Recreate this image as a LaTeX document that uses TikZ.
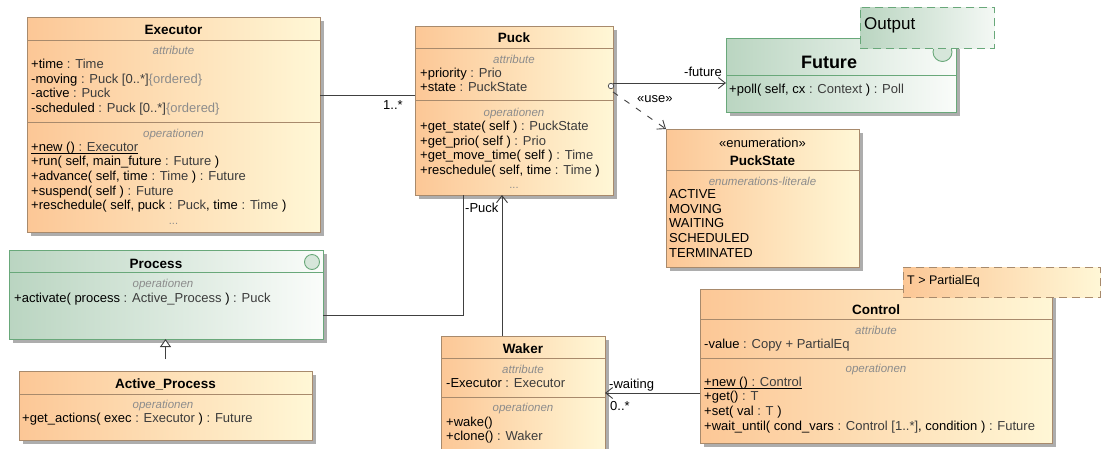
\documentclass[tikz,border=0pt]{standalone}
\usepackage{fontspec}
\setmainfont{Liberation Sans}
\usetikzlibrary{arrows.meta,shadows}
\definecolor{orL}{RGB}{252,199,150}
\definecolor{orR}{RGB}{255,247,214}
\definecolor{orB}{RGB}{168,138,108}
\definecolor{grL}{RGB}{186,213,193}
\definecolor{grR}{RGB}{250,252,250}
\definecolor{grB}{RGB}{105,168,122}
\definecolor{tyC}{RGB}{60,60,60}
\definecolor{cmpC}{RGB}{140,140,140}
\definecolor{lnC}{RGB}{64,64,64}
\definecolor{icC}{RGB}{214,230,218}
\newcommand\ty[1]{\textcolor{tyC}{#1}}
\newcommand\og[1]{\textcolor{cmpC}{#1}}
\tikzset{
  cls/.style={draw=orB, line width=0.9pt, left color=orL, right color=orR,
    drop shadow={shadow xshift=4pt, shadow yshift=-4pt, fill=black!32, opacity=1},
    anchor=north west, inner sep=0pt, outer sep=0pt},
  gcls/.style={cls, draw=grB, left color=grL, right color=grR},
  sep/.style={draw=orB, line width=0.9pt},
  gsep/.style={draw=grB, line width=0.9pt},
  ln/.style={anchor=base west, inner sep=0pt, font=\fontsize{13}{15}\selectfont},
  ttl/.style={anchor=base, inner sep=0pt, font=\fontsize{13.5}{15}\selectfont\bfseries},
  cmp/.style={anchor=base, inner sep=0pt, font=\fontsize{11.5}{13}\selectfont\itshape, text=cmpC},
  dots/.style={anchor=base, inner sep=0pt, font=\fontsize{11}{13}\selectfont, text=cmpC},
  lbl/.style={anchor=base west, inner sep=0pt, font=\fontsize{13}{15}\selectfont},
  conn/.style={draw=lnC, line width=0.9pt},
  uln/.style={draw=black, line width=0.7pt},
  barb/.style={-{Straight Barb[length=7pt,width=11pt]}},
  gen/.style={-{Triangle[length=8pt,width=11pt,fill=white]}},
  icon/.style={circle, draw=grB, fill=icC, line width=0.9pt, inner sep=0pt},
}
\begin{document}
\begin{tikzpicture}[x=1pt,y=-1pt]
\useasboundingbox (0,0) rectangle (1101,448);
\clip (0,0) rectangle (1101,448);

% ---------- Executor ----------
\node[cls, minimum width=293pt, minimum height=215pt] (executor) at (27,17) {};
\draw[sep] (27,40) -- (320,40);
\draw[sep] (27,122) -- (320,122);
\node[ttl] (ex-t) at (173.5,34) {Executor};
\node[cmp] (ex-c1) at (173.5,54) {attribute};
\foreach \lin [count=\i from 0] in {{+time \ty{: Time}},{-moving \ty{: Puck [0..*]}\og{\{ordered\}}},{-active \ty{: Puck}},{-scheduled \ty{: Puck [0..*]}\og{\{ordered\}}}}
  \node[ln] (ex-a\i) at (31,68.5+14.7*\i) {\lin};
\node[cmp] (ex-c2) at (173.5,137) {operationen};
\foreach \lin [count=\i from 0] in {{+new () \ty{: Executor}},{+run( self, main\_future \ty{: Future} )},{+advance( self, time \ty{: Time} ) \ty{: Future}},{+suspend( self ) \ty{: Future}},{+reschedule( self, puck \ty{: Puck}, time \ty{: Time} )}}
  \node[ln] (ex-o\i) at (31,151+14.7*\i) {\lin};
\draw[uln] ([yshift=-2.2pt]ex-o0.base west) -- ([yshift=-2.2pt]ex-o0.base east);
\node[dots] (ex-d) at (173.5,224.5) {...};

% ---------- Puck ----------
\node[cls, minimum width=198pt, minimum height=169pt] (puck) at (415,26) {};
\draw[sep] (415,48) -- (613,48);
\draw[sep] (415,100) -- (613,100);
\node[ttl] (pk-t) at (514,42) {Puck};
\node[cmp] (pk-c1) at (514,63) {attribute};
\foreach \lin [count=\i from 0] in {{+priority \ty{: Prio}},{+state \ty{: PuckState}}}
  \node[ln] (pk-a\i) at (420,77+14.7*\i) {\lin};
\node[cmp] (pk-c2) at (514,116) {operationen};
\foreach \lin [count=\i from 0] in {{+get\_state( self ) \ty{: PuckState}},{+get\_prio( self ) \ty{: Prio}},{+get\_move\_time( self ) \ty{: Time}},{+reschedule( self, time \ty{: Time} )}}
  \node[ln] (pk-o\i) at (420,130.5+14.7*\i) {\lin};
\node[dots] (pk-d) at (514,188.5) {...};

% ---------- Future ----------
\node[gcls, minimum width=230pt, minimum height=74pt] (future) at (726,38) {};
\draw[gsep] (726,75) -- (956,75);
\node[anchor=base, inner sep=0pt, font=\fontsize{18}{20}\selectfont\bfseries] (fu-t) at (829,68.8) {Future};
\node[ln] (fu-o0) at (729,93) {+poll( self, cx \ty{: Context} ) \ty{: Poll}};
\node[icon, minimum size=19pt] (fu-ic) at (942.5,52) {};
\node[draw=grB, line width=0.9pt, dash pattern=on 8pt off 5pt, left color=grL, right color=grR!90!grL,
  minimum width=134pt, minimum height=41pt, anchor=north west, inner sep=0pt] (outbox) at (860,7) {};
\node[anchor=base west, inner sep=0pt, font=\fontsize{17}{19}\selectfont] (out-t) at (864,29) {Output};

% ---------- PuckState ----------
\node[cls, minimum width=193pt, minimum height=138pt] (puckstate) at (666,129) {};
\draw[sep] (666,170) -- (859,170);
\node[anchor=base, inner sep=0pt, font=\fontsize{13}{15}\selectfont] (ps-s) at (762.5,147.5) {«enumeration»};
\node[ttl] (ps-t) at (762.5,165) {PuckState};
\node[cmp] (ps-c1) at (762.5,185) {enumerations-literale};
\foreach \lin [count=\i from 0] in {ACTIVE,MOVING,WAITING,SCHEDULED,TERMINATED}
  \node[ln] (ps-l\i) at (669,198.5+14.7*\i) {\lin};

% ---------- Process ----------
\node[gcls, minimum width=314pt, minimum height=89pt] (process) at (9,250) {};
\draw[gsep] (9,272) -- (323,272);
\node[ttl] (pr-t) at (156,268) {Process};
\node[icon, minimum size=15pt] (pr-ic) at (312,262) {};
\node[cmp] (pr-c1) at (163,287) {operationen};
\node[ln] (pr-o0) at (14,302) {+activate( process \ty{: Active\_Process} ) \ty{: Puck}};

% ---------- Active_Process ----------
\node[cls, minimum width=293pt, minimum height=69pt] (active) at (19,371) {};
\draw[sep] (19,394) -- (312,394);
\node[ttl] (ap-t) at (165.5,388) {Active\_Process};
\node[cmp] (ap-c1) at (163,408) {operationen};
\node[ln] (ap-o0) at (22,422) {+get\_actions( exec \ty{: Executor} ) \ty{: Future}};

% ---------- Waker ----------
\node[cls, minimum width=164pt, minimum height=130pt] (waker) at (441,336) {};
\draw[sep] (441,358) -- (605,358);
\draw[sep] (441,397) -- (605,397);
\node[ttl] (wk-t) at (523,353) {Waker};
\node[cmp] (wk-c1) at (523,373) {attribute};
\node[ln] (wk-a0) at (446,387.5) {-Executor \ty{: Executor}};
\node[cmp] (wk-c2) at (523,411.5) {operationen};
\foreach \lin [count=\i from 0] in {{+wake()},{+clone() \ty{: Waker}}}
  \node[ln] (wk-o\i) at (446,426+14.7*\i) {\lin};

% ---------- Control ----------
\node[cls, minimum width=352pt, minimum height=154pt] (control) at (700,289) {};
\draw[sep] (700,319) -- (1052,319);
\draw[sep] (700,358) -- (1052,358);
\node[ttl] (ct-t) at (876,314) {Control};
\node[cmp] (ct-c1) at (876,334) {attribute};
\node[ln] (ct-a0) at (704,348) {-value \ty{: Copy + PartialEq}};
\node[cmp] (ct-c2) at (876,372.5) {operationen};
\foreach \lin [count=\i from 0] in {{+new () \ty{: Control}},{+get() \ty{: T}},{+set( val \ty{: T} )},{+wait\_until( cond\_vars \ty{: Control [1..*]}, condition ) \ty{: Future}}}
  \node[ln] (ct-o\i) at (704,386+14.7*\i) {\lin};
\draw[uln] ([yshift=-2.2pt]ct-o0.base west) -- ([yshift=-2.2pt]ct-o0.base east);
\node[draw=orB, line width=0.9pt, dash pattern=on 8pt off 5pt, left color=orL, right color=orR,
  minimum width=197pt, minimum height=30pt, anchor=north west, inner sep=0pt] (tmpl) at (903,267) {};
\node[anchor=base west, inner sep=0pt, font=\fontsize{12.5}{14}\selectfont] (tmpl-t) at (907,284.5) {T > PartialEq};

% ---------- Connectors ----------
\coordinate (y95) at (0,95);
\coordinate (y83) at (0,83);
\coordinate (y92) at (0,92);
\coordinate (y315) at (0,315);
\coordinate (y393) at (0,393);
\coordinate (x463) at (463,0);
\coordinate (x502) at (502,0);

\draw[conn] (executor.east |- y95) -- (puck.west |- y95);
\node[lbl] (m-ep) at (383,109.5) {1..*};

\draw[conn, barb] (puck.east |- y83) -- (future.west |- y83);
\node[circle, draw=lnC, fill=white, minimum size=5.5pt, inner sep=0pt, line width=0.7pt] (own) at (611,86) {};
\node[lbl, anchor=base east] (l-fut) at (722,76.5) {-future};

\draw[conn, barb, dash pattern=on 6pt off 8pt] (puck.east |- y92) -- (puckstate.north west);
\node[lbl] (l-use) at (637,102) {«use»};

\draw[conn] (process.east |- y315) -| (x463 |- puck.south);
\node[lbl] (l-puck) at (465,212.5) {-Puck};

\draw[conn, barb] (x502 |- waker.north) -- (x502 |- puck.south);

\draw[conn, barb] (control.west |- y393) -- (waker.east |- y393);
\node[lbl] (l-wait) at (609,388) {-waiting};
\node[lbl] (m-wait) at (610,410) {0..*};

\draw[conn, gen, shorten <=12pt] (active.north) -- (active.north |- process.south);
\end{tikzpicture}
\end{document}
